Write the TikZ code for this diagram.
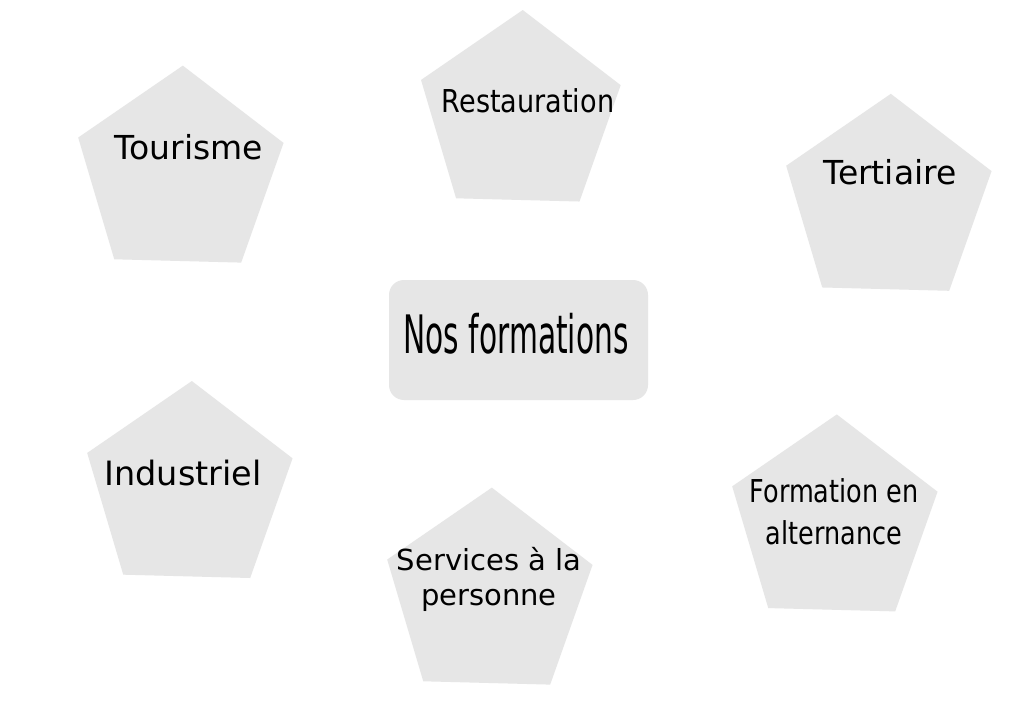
\documentclass[tikz,border=0pt]{standalone}
\usepackage{fontspec}
\setmainfont{DejaVu Sans}
\usepackage{graphicx}
\usepackage{xcolor}
\usepackage{tikz}
\usetikzlibrary{
  positioning,
  shapes.geometric
}
\definecolor{pentgray}{RGB}{230,230,230}
\providecommand{\squeeze}[2]{\scalebox{#1}[1]{#2}}

\begin{document}
\begin{tikzpicture}[
    x=1pt, y=1pt,
    pent/.style={
        regular polygon,
        regular polygon sides=5,
        minimum size=216pt,
        inner sep=0pt,
        fill=pentgray,
        rotate=-1.5
    },
    center/.style={
        rectangle,
        rounded corners=15pt,
        fill=pentgray,
        minimum width=259pt,
        minimum height=120pt,
        inner sep=0pt
    },
    label/.style={
        anchor=base,
        align=center,
        inner sep=0pt,
        text=black
    }
]

% ----------------------------------------------------------
% CANVAS
% ----------------------------------------------------------

\fill[white] (0,0) rectangle (1024,724);
\useasboundingbox (0,0) rectangle (1024,724);

% ----------------------------------------------------------
% NODES
% ----------------------------------------------------------

\node[pent] (tourisme) at (180,550.4) {};
\node[pent, minimum size=210pt] (restauration) at (520,609) {};
\node[pent] (tertiaire) at (888,522.2) {};
\node[pent] (industriel) at (189,235) {};
\node[pent] (services) at (489,128.4) {};
\node[pent] (alternance) at (834,201.6) {};

\node[center] (formations) at (518.5,384) {};

% ----------------------------------------------------------
% LABELS
% ----------------------------------------------------------

\node[label, font=\fontsize{33}{40}\selectfont] (tourismeText) at (189,564) {Tourisme};
\node[label, font=\fontsize{31.5}{38}\selectfont] (restaurationText) at (528,611) {\squeeze{0.86}{Restauration}};
\node[label, font=\fontsize{33}{40}\selectfont] (tertiaireText) at (890,539) {Tertiaire};
\node[label, font=\fontsize{33.5}{40}\selectfont] (industrielText) at (183,239) {Industriel};
\node[label, font=\fontsize{29}{35}\selectfont] (servicesText) at (489,119) {Services à la\\personne};
\node[label, font=\fontsize{31.5}{42}\selectfont] (alternanceText) at (834,180) {\squeeze{0.81}{Formation en}\\\squeeze{0.81}{alternance}};

\node[label, font=\fontsize{53}{60}\selectfont] (formationsText) at (516,371) {\squeeze{0.56}{Nos formations}};

\end{tikzpicture}
\end{document}
